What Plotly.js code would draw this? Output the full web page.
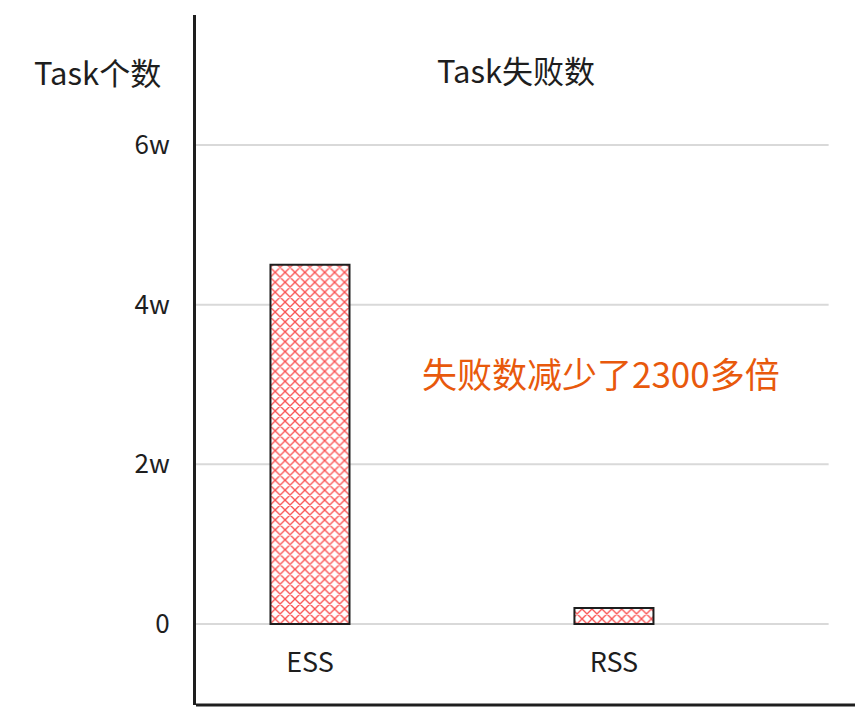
<!DOCTYPE html>
<html>
<head>
<meta charset="utf-8">
<script src="https://cdn.plot.ly/plotly-3.0.1.min.js"></script>
<style>html,body{margin:0;padding:0;background:#fff;}#chart{width:867px;height:720px;}</style>
</head>
<body>
<div id="chart"></div>
<script>
const categories = ["ESS", "RSS"];
const failures = [45000, 2000];
const tickValues = [0, 20000, 40000, 60000];
const tickLabels = ["0", "2w", "4w", "6w"];
const chartTitle = "Task失败数";
const yTitle = "Task个数";
const note = "失败数减少了2300多倍";

const FONT = '"Noto Sans CJK SC", "Noto Sans", sans-serif';

const trace = {
  type: "bar",
  x: [0, 1],
  y: failures,
  width: 0.26,
  marker: {
    color: "rgba(255,255,255,1)",
    line: {color: "#1e1e1e", width: 2},
    pattern: {shape: "x", fgcolor: "#fa5252", bgcolor: "#ffffff", size: 7, solidity: 0.35}
  },
  hoverinfo: "skip"
};

const gridShapes = tickValues.map(v => ({
  type: "line", xref: "paper", yref: "y",
  x0: 0, x1: 0.96, y0: v, y1: v,
  line: {color: "#d9d9d9", width: 2}, layer: "below"
}));

const layout = {
  width: 867, height: 720,
  margin: {l: 196, r: 12, t: 15, b: 15},
  paper_bgcolor: "#fff", plot_bgcolor: "#fff",
  font: {family: FONT, color: "#1e1e1e"},
  showlegend: false,
  title: {
    text: chartTitle,
    font: {family: FONT, size: 31, color: "#1e1e1e"},
    xref: "paper", x: (516 - 196) / 659, xanchor: "center",
    yref: "container", y: 1 - 72 / 720, yanchor: "middle"
  },
  xaxis: {
    range: [-0.375, 1.793],
    tickvals: [0, 1],
    ticktext: categories,
    tickfont: {family: FONT, size: 27, color: "#1e1e1e"},
    showgrid: false, zeroline: false, showline: false,
    ticks: "",
    anchor: "free", position: (705 - 644) / 690
  },
  yaxis: {
    range: [-10150, 76300],
    tickvals: tickValues,
    ticktext: tickLabels,
    tickfont: {family: FONT, size: 26, color: "#1e1e1e"},
    showgrid: false, zeroline: false,
    showline: true, linecolor: "#1e1e1e", linewidth: 3,
    ticks: "", ticklabelstandoff: 18
  },
  shapes: gridShapes.concat([{
    type: "line", xref: "paper", yref: "paper",
    x0: 0, x1: 1, y0: 0, y1: 0,
    line: {color: "#1e1e1e", width: 3}
  }]),
  annotations: [
    {
      text: yTitle, xref: "paper", yref: "paper",
      x: (97 - 196) / 659, y: (705 - 72) / 690,
      xanchor: "center", yanchor: "middle", showarrow: false,
      font: {family: FONT, size: 31, color: "#1e1e1e"}
    },
    {
      text: note, xref: "paper", yref: "paper",
      x: (601 - 196) / 659, y: (705 - 372) / 690,
      xanchor: "center", yanchor: "middle", showarrow: false,
      font: {family: FONT, size: 35, color: "#e8590c"}
    }
  ]
};

Plotly.newPlot("chart", [trace], layout, {displayModeBar: false, staticPlot: true});
</script>
</body>
</html>
